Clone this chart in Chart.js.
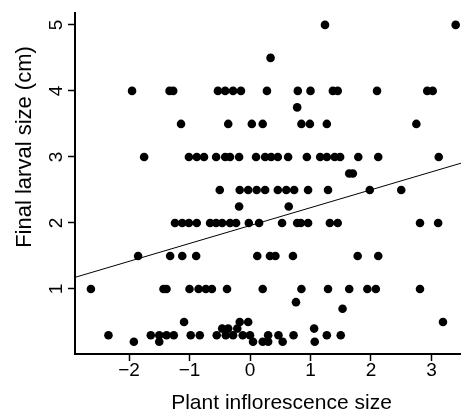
<!DOCTYPE html>
<html>
<head>
<meta charset="utf-8">
<script src="https://cdn.jsdelivr.net/npm/chart.js@4.4.1/dist/chart.umd.min.js"></script>
<style>
  html, body { margin: 0; padding: 0; background: #fff; }
  #wrap { width: 461px; height: 414px; }
</style>
</head>
<body>
<div id="wrap"><canvas id="c" width="461" height="414"></canvas></div>
<script>
// Final larval size levels (cm) and the plant inflorescence sizes observed at each level
const larvalLevels = [5, 4.5, 4, 3.75, 3.5, 3, 2.75, 2.5, 2.25, 2, 1.5, 1, 0.8, 0.7, 0.5, 0.4, 0.3, 0.2];
const inflorescenceAt5    = [1.24, 3.40];
const inflorescenceAt4_5  = [0.34];
const inflorescenceAt4    = [-1.95, -1.33, -1.27, -0.53, -0.41, -0.28, -0.15, 0.28, 0.79, 1.00, 1.37, 1.45, 2.10, 2.93, 3.02];
const inflorescenceAt3_75 = [0.78];
const inflorescenceAt3_5  = [-1.14, -0.36, 0.03, 0.21, 0.85, 0.99, 1.27, 2.75];
const inflorescenceAt3    = [-1.75, -1.01, -0.88, -0.76, -0.56, -0.41, -0.33, -0.18, 0.10, 0.25, 0.35, 0.46, 0.63, 0.94, 1.16, 1.27, 1.40, 1.49, 1.79, 2.12, 3.12];
const inflorescenceAt2_75 = [1.64, 1.70];
const inflorescenceAt2_5  = [-0.50, -0.17, -0.03, 0.11, 0.25, 0.46, 0.60, 0.73, 0.96, 1.29, 1.98, 2.50];
const inflorescenceAt2_25 = [-0.18, 0.64];
const inflorescenceAt2    = [-1.24, -1.12, -1.01, -0.88, -0.66, -0.56, -0.46, -0.33, -0.23, -0.02, 0.15, 0.53, 0.78, 0.84, 0.96, 1.32, 1.45, 2.81, 3.11];
const inflorescenceAt1_5  = [-1.85, -1.32, -1.12, -0.89, 0.12, 0.33, 0.42, 0.71, 1.78, 2.12];
const inflorescenceAt1    = [-2.63, -1.43, -1.38, -1.00, -0.85, -0.73, -0.63, -0.38, 0.21, 0.85, 1.29, 1.64, 1.94, 2.08, 2.81];
const inflorescenceAt0_8  = [0.76];
const inflorescenceAt0_7  = [1.53];
const inflorescenceAt0_5  = [-1.09, -0.17, -0.03, 3.19];
const inflorescenceAt0_4  = [-0.46, -0.36, -0.21, 1.06];
const inflorescenceAt0_3  = [-2.34, -1.64, -1.50, -1.38, -1.26, -0.98, -0.83, -0.55, -0.40, -0.28, -0.12, 0.00, 0.30, 0.47, 0.72, 1.27, 1.50];
const inflorescenceAt0_2  = [-1.92, -1.50, 0.05, 0.21, 0.30, 0.54, 1.07];

const inflorescenceByLevel = [
  inflorescenceAt5, inflorescenceAt4_5, inflorescenceAt4, inflorescenceAt3_75, inflorescenceAt3_5,
  inflorescenceAt3, inflorescenceAt2_75, inflorescenceAt2_5, inflorescenceAt2_25, inflorescenceAt2,
  inflorescenceAt1_5, inflorescenceAt1, inflorescenceAt0_8, inflorescenceAt0_7, inflorescenceAt0_5,
  inflorescenceAt0_4, inflorescenceAt0_3, inflorescenceAt0_2
];

// Fitted regression line
const fitIntercept = 1.96;
const fitSlope = 0.271;

// Axes
const xRange = [-2.893, 3.488];
const yRange = [0.015, 5.18];
const xTickValues = [-2, -1, 0, 1, 2, 3];
const yTickValues = [1, 2, 3, 4, 5];
const xTitle = 'Plant inflorescence size';
const yTitle = 'Final larval size (cm)';

const points = [];
larvalLevels.forEach((lv, i) => {
  inflorescenceByLevel[i].forEach(x => points.push({ x: x, y: lv }));
});
const fitLine = xRange.map(x => ({ x: x, y: fitIntercept + fitSlope * x }));

const FONT = "'Liberation Sans', Arial, Helvetica, sans-serif";
const fmt = v => (v < 0 ? '\u2212' + Math.abs(v) : String(v));

// The axis titles in the reference sit off the plot-region centre; nudge them.
const titleNudge = {
  id: 'titleNudge',
  afterLayout(chart) {
    const y = chart.scales.y, x = chart.scales.x;
    if (!y._nudged) {
      const oy = y.drawTitle;
      y.drawTitle = function () { const t = this.top; this.top = t - 73; oy.call(this); this.top = t; };
      y._nudged = true;
    }
    if (!x._nudged) {
      const ox = x.drawTitle;
      x.drawTitle = function () { const l = this.left; this.left = l + 27; ox.call(this); this.left = l; };
      x._nudged = true;
    }
  }
};

new Chart(document.getElementById('c'), {
  type: 'scatter',
  data: {
    datasets: [
      { data: fitLine, showLine: true, borderColor: '#000', borderWidth: 1, pointRadius: 0, pointHoverRadius: 0, fill: false },
      { data: points, backgroundColor: '#000', borderColor: '#000', borderWidth: 0, pointRadius: 4.3, pointHoverRadius: 4.3 }
    ]
  },
  plugins: [titleNudge],
  options: {
    responsive: false,
    animation: false,
    events: [],
    layout: { autoPadding: false, padding: { top: 13, right: 0, bottom: 0, left: 0 } },
    plugins: { legend: { display: false }, tooltip: { enabled: false } },
    scales: {
      x: {
        type: 'linear', min: xRange[0], max: xRange[1],
        afterBuildTicks: s => { s.ticks = xTickValues.map(v => ({ value: v })); },
        afterFit: s => { s.height = 60; s.paddingLeft = 0; s.paddingRight = 0; },
        grid: { display: true, drawOnChartArea: false, drawTicks: true, tickLength: 7, tickColor: '#000', tickWidth: 1.5 },
        border: { display: true, color: '#000', width: 2 },
        ticks: { color: '#000', font: { family: FONT, size: 19 }, padding: -2, maxRotation: 0, callback: v => fmt(v) },
        title: { display: true, text: xTitle, color: '#000', font: { family: FONT, size: 21, lineHeight: 1 }, padding: { top: 0, bottom: 0 } }
      },
      y: {
        type: 'linear', min: yRange[0], max: yRange[1],
        afterBuildTicks: s => { s.ticks = yTickValues.map(v => ({ value: v })); },
        afterFit: s => { s.width = 75; s.paddingTop = 0; s.paddingBottom = 0; },
        grid: { display: true, drawOnChartArea: false, drawTicks: true, tickLength: 7, tickColor: '#000', tickWidth: 1.5 },
        border: { display: true, color: '#000', width: 2 },
        ticks: { color: '#000', font: { family: FONT, size: 19 }, padding: 6, minRotation: 90, maxRotation: 90, crossAlign: 'center', callback: v => fmt(v) },
        title: { display: true, text: yTitle, color: '#000', font: { family: FONT, size: 22, lineHeight: 1 }, padding: { top: 14, bottom: 0 } }
      }
    }
  }
});
</script>
</body>
</html>
